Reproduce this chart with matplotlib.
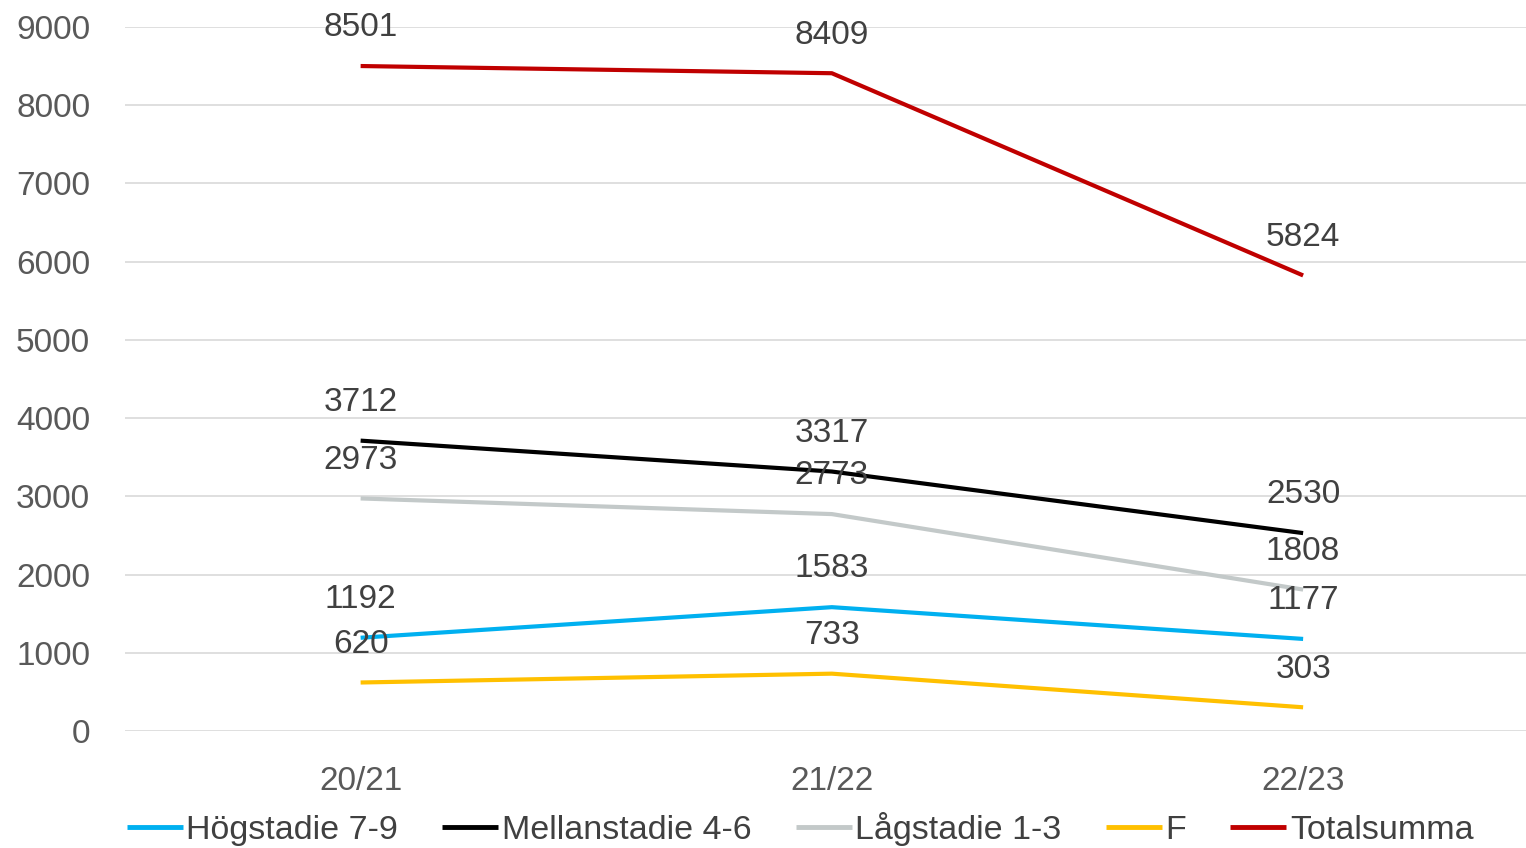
import matplotlib
matplotlib.use("Agg")
import matplotlib.pyplot as plt

categories = ["20/21", "21/22", "22/23"]
series_names = ["Högstadie 7-9", "Mellanstadie 4-6", "Lågstadie 1-3", "F", "Totalsumma"]
hogstadie = [1192, 1583, 1177]
mellanstadie = [3712, 3317, 2530]
lagstadie = [2973, 2773, 1808]
f_values = [620, 733, 303]
totalsumma = [8501, 8409, 5824]
y_ticks = [0, 1000, 2000, 3000, 4000, 5000, 6000, 7000, 8000, 9000]

colors = ["#00B0F0", "#000000", "#C3C9C9", "#FFC000", "#C00000"]
all_series = [hogstadie, mellanstadie, lagstadie, f_values, totalsumma]

plt.rcParams['font.family'] = ['Liberation Sans', 'DejaVu Sans']

fig = plt.figure(figsize=(15.26, 8.48), dpi=100)
ax = fig.add_axes([125/1526, 1 - 731/848, 1 - 125/1526, (731 - 27)/848])

x = list(range(len(categories)))
handles = []
for name, vals, c in zip(series_names, all_series, colors):
    h, = ax.plot(x, vals, color=c, lw=3.0, solid_capstyle='butt', zorder=3)
    handles.append(h)
    for xi, v in zip(x, vals):
        ax.annotate(str(v), (xi, v), xytext=(0, 27.5), textcoords='offset points',
                    ha='center', va='center', fontsize=24, color='#404040', zorder=4)

ax.set_xlim(-0.5, (1526 - 360) / 471.5)
ax.set_ylim(0, 9000)
ax.set_yticks(y_ticks)
ax.set_xticks(x)
ax.set_xticklabels(categories)
ax.grid(axis='y', color='#D9D9D9', lw=1.2, zorder=0)
ax.set_axisbelow(True)
for s in ax.spines.values():
    s.set_visible(False)
ax.tick_params(axis='both', length=0, labelsize=24, labelcolor='#595959')
ax.tick_params(axis='y', pad=25)
ax.tick_params(axis='x', pad=25)

leg = fig.legend(handles, series_names, loc='center', bbox_to_anchor=(800/1526, 1 - 829/848),
                 ncol=5, frameon=False, fontsize=24.5, handlelength=1.65, handletextpad=0.1,
                 columnspacing=1.3, labelcolor='#404040')
for lh in leg.get_lines():
    lh.set_linewidth(3.5)

fig.savefig("out.png", dpi=100)
